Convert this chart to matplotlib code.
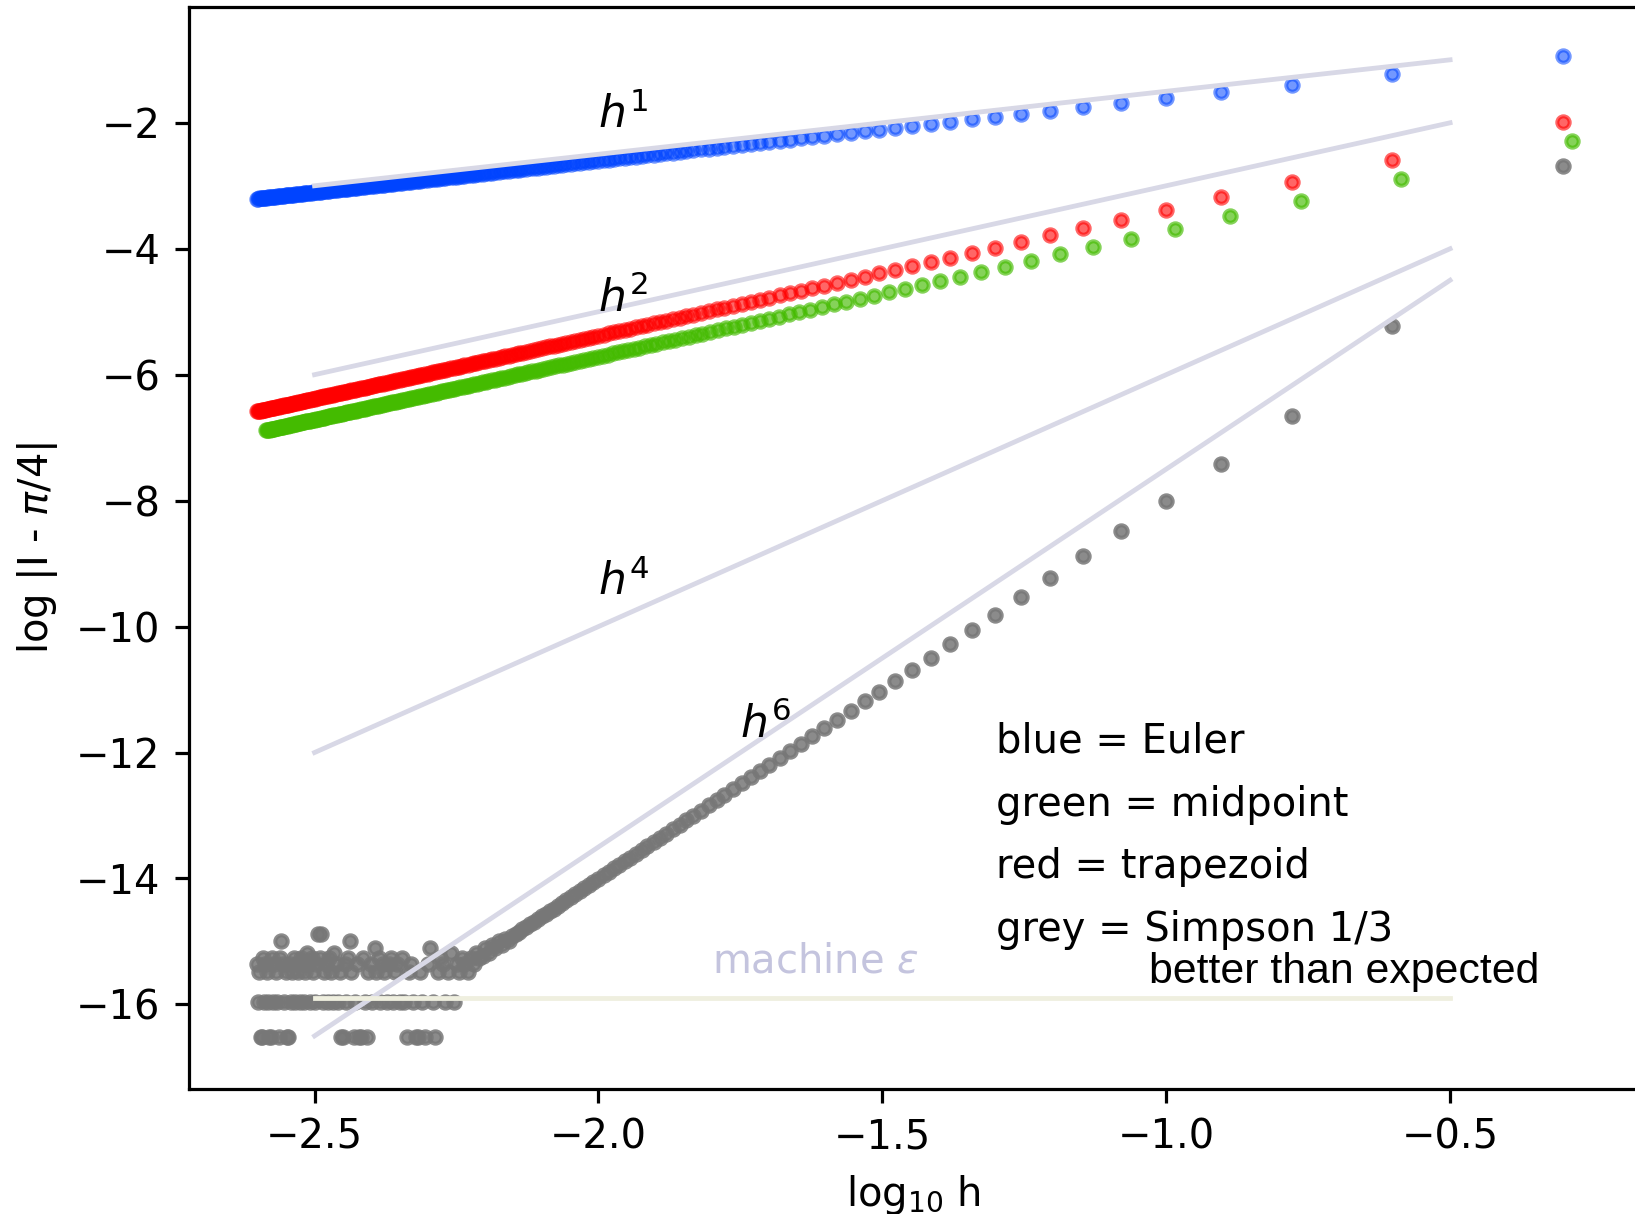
import matplotlib
matplotlib.use("Agg")
import matplotlib.pyplot as plt
import matplotlib.transforms as mtransforms

# log10 of the step h = 1/n for n = 2, 4, ..., 400 panels
log_h = [
    -0.301, -0.602, -0.778, -0.903, -1.000, -1.079, -1.146, -1.204, -1.255, -1.301,
    -1.342, -1.380, -1.415, -1.447, -1.477, -1.505, -1.531, -1.556, -1.580, -1.602,
    -1.623, -1.643, -1.663, -1.681, -1.699, -1.716, -1.732, -1.748, -1.763, -1.778,
    -1.792, -1.806, -1.820, -1.833, -1.845, -1.857, -1.869, -1.881, -1.892, -1.903,
    -1.914, -1.924, -1.934, -1.944, -1.954, -1.964, -1.973, -1.982, -1.991, -2.000,
    -2.009, -2.017, -2.025, -2.033, -2.041, -2.049, -2.057, -2.064, -2.072, -2.079,
    -2.086, -2.093, -2.100, -2.107, -2.114, -2.121, -2.127, -2.134, -2.140, -2.146,
    -2.152, -2.158, -2.164, -2.170, -2.176, -2.182, -2.188, -2.193, -2.199, -2.204,
    -2.210, -2.215, -2.220, -2.225, -2.230, -2.236, -2.241, -2.246, -2.250, -2.255,
    -2.260, -2.265, -2.270, -2.274, -2.279, -2.283, -2.288, -2.292, -2.297, -2.301,
    -2.305, -2.310, -2.314, -2.318, -2.322, -2.326, -2.330, -2.334, -2.338, -2.342,
    -2.346, -2.350, -2.354, -2.358, -2.362, -2.365, -2.369, -2.373, -2.377, -2.380,
    -2.384, -2.387, -2.391, -2.394, -2.398, -2.401, -2.405, -2.408, -2.412, -2.415,
    -2.418, -2.422, -2.425, -2.428, -2.431, -2.435, -2.438, -2.441, -2.444, -2.447,
    -2.450, -2.453, -2.456, -2.459, -2.462, -2.465, -2.468, -2.471, -2.474, -2.477,
    -2.480, -2.483, -2.486, -2.489, -2.491, -2.494, -2.497, -2.500, -2.502, -2.505,
    -2.508, -2.511, -2.513, -2.516, -2.519, -2.521, -2.524, -2.526, -2.529, -2.531,
    -2.534, -2.537, -2.539, -2.542, -2.544, -2.547, -2.549, -2.551, -2.554, -2.556,
    -2.559, -2.561, -2.563, -2.566, -2.568, -2.571, -2.573, -2.575, -2.577, -2.580,
    -2.582, -2.584, -2.587, -2.589, -2.591, -2.593, -2.595, -2.598, -2.600, -2.602,
]

# log10 |I - pi/4| for each rule, same order as log_h
err_euler = [
    -0.941, -1.223, -1.392, -1.514, -1.609, -1.687, -1.753, -1.811, -1.861, -1.907,
    -1.945, -1.983, -2.018, -2.050, -2.080, -2.108, -2.134, -2.159, -2.183, -2.205,
    -2.226, -2.246, -2.266, -2.284, -2.302, -2.319, -2.335, -2.351, -2.366, -2.381,
    -2.395, -2.409, -2.423, -2.436, -2.448, -2.460, -2.472, -2.484, -2.495, -2.506,
    -2.517, -2.527, -2.537, -2.547, -2.557, -2.567, -2.576, -2.585, -2.594, -2.603,
    -2.612, -2.620, -2.628, -2.636, -2.644, -2.652, -2.660, -2.667, -2.675, -2.682,
    -2.689, -2.696, -2.703, -2.710, -2.717, -2.724, -2.730, -2.737, -2.743, -2.749,
    -2.755, -2.761, -2.767, -2.773, -2.779, -2.785, -2.791, -2.796, -2.802, -2.807,
    -2.813, -2.818, -2.823, -2.828, -2.833, -2.839, -2.844, -2.849, -2.853, -2.858,
    -2.863, -2.868, -2.873, -2.877, -2.882, -2.886, -2.891, -2.895, -2.900, -2.904,
    -2.908, -2.913, -2.917, -2.921, -2.925, -2.929, -2.933, -2.937, -2.941, -2.945,
    -2.949, -2.953, -2.957, -2.961, -2.965, -2.968, -2.972, -2.976, -2.980, -2.983,
    -2.987, -2.990, -2.994, -2.997, -3.001, -3.004, -3.008, -3.011, -3.015, -3.018,
    -3.021, -3.025, -3.028, -3.031, -3.034, -3.038, -3.041, -3.044, -3.047, -3.050,
    -3.053, -3.056, -3.059, -3.062, -3.065, -3.068, -3.071, -3.074, -3.077, -3.080,
    -3.083, -3.086, -3.089, -3.092, -3.094, -3.097, -3.100, -3.103, -3.105, -3.108,
    -3.111, -3.114, -3.116, -3.119, -3.122, -3.124, -3.127, -3.129, -3.132, -3.134,
    -3.137, -3.140, -3.142, -3.145, -3.147, -3.150, -3.152, -3.154, -3.157, -3.159,
    -3.162, -3.164, -3.166, -3.169, -3.171, -3.174, -3.176, -3.178, -3.180, -3.183,
    -3.185, -3.187, -3.190, -3.192, -3.194, -3.196, -3.198, -3.201, -3.203, -3.205,
]

err_trap = [
    -1.982, -2.584, -2.936, -3.186, -3.380, -3.538, -3.672, -3.788, -3.890, -3.982,
    -4.064, -4.140, -4.210, -4.274, -4.334, -4.390, -4.442, -4.492, -4.540, -4.584,
    -4.626, -4.666, -4.706, -4.742, -4.778, -4.812, -4.844, -4.876, -4.906, -4.936,
    -4.964, -4.992, -5.020, -5.046, -5.070, -5.094, -5.118, -5.142, -5.164, -5.186,
    -5.208, -5.228, -5.248, -5.268, -5.288, -5.308, -5.326, -5.344, -5.362, -5.380,
    -5.398, -5.414, -5.430, -5.446, -5.462, -5.478, -5.494, -5.508, -5.524, -5.538,
    -5.552, -5.566, -5.580, -5.594, -5.608, -5.622, -5.634, -5.648, -5.660, -5.672,
    -5.684, -5.696, -5.708, -5.720, -5.732, -5.744, -5.756, -5.766, -5.778, -5.788,
    -5.800, -5.810, -5.820, -5.830, -5.840, -5.852, -5.862, -5.872, -5.880, -5.890,
    -5.900, -5.910, -5.920, -5.928, -5.938, -5.946, -5.956, -5.964, -5.974, -5.982,
    -5.990, -6.000, -6.008, -6.016, -6.024, -6.032, -6.040, -6.048, -6.056, -6.064,
    -6.072, -6.080, -6.088, -6.096, -6.104, -6.110, -6.118, -6.126, -6.134, -6.140,
    -6.148, -6.154, -6.162, -6.168, -6.176, -6.182, -6.190, -6.196, -6.204, -6.210,
    -6.216, -6.224, -6.230, -6.236, -6.242, -6.250, -6.256, -6.262, -6.268, -6.274,
    -6.280, -6.286, -6.292, -6.298, -6.304, -6.310, -6.316, -6.322, -6.328, -6.334,
    -6.340, -6.346, -6.352, -6.358, -6.362, -6.368, -6.374, -6.380, -6.384, -6.390,
    -6.396, -6.402, -6.406, -6.412, -6.418, -6.422, -6.428, -6.432, -6.438, -6.442,
    -6.448, -6.454, -6.458, -6.464, -6.468, -6.474, -6.478, -6.482, -6.488, -6.492,
    -6.498, -6.502, -6.506, -6.512, -6.516, -6.522, -6.526, -6.530, -6.534, -6.540,
    -6.544, -6.548, -6.554, -6.558, -6.562, -6.566, -6.570, -6.576, -6.580, -6.584,
]

err_mid = [
    -2.283, -2.885, -3.237, -3.487, -3.681, -3.839, -3.973, -4.089, -4.191, -4.283,
    -4.365, -4.441, -4.511, -4.575, -4.635, -4.691, -4.743, -4.793, -4.841, -4.885,
    -4.927, -4.967, -5.007, -5.043, -5.079, -5.113, -5.145, -5.177, -5.207, -5.237,
    -5.265, -5.293, -5.321, -5.347, -5.371, -5.395, -5.419, -5.443, -5.465, -5.487,
    -5.509, -5.529, -5.549, -5.569, -5.589, -5.609, -5.627, -5.645, -5.663, -5.681,
    -5.699, -5.715, -5.731, -5.747, -5.763, -5.779, -5.795, -5.809, -5.825, -5.839,
    -5.853, -5.867, -5.881, -5.895, -5.909, -5.923, -5.935, -5.949, -5.961, -5.973,
    -5.985, -5.997, -6.009, -6.021, -6.033, -6.045, -6.057, -6.067, -6.079, -6.089,
    -6.101, -6.111, -6.121, -6.131, -6.141, -6.153, -6.163, -6.173, -6.181, -6.191,
    -6.201, -6.211, -6.221, -6.229, -6.239, -6.247, -6.257, -6.265, -6.275, -6.283,
    -6.291, -6.301, -6.309, -6.317, -6.325, -6.333, -6.341, -6.349, -6.357, -6.365,
    -6.373, -6.381, -6.389, -6.397, -6.405, -6.411, -6.419, -6.427, -6.435, -6.441,
    -6.449, -6.455, -6.463, -6.469, -6.477, -6.483, -6.491, -6.497, -6.505, -6.511,
    -6.517, -6.525, -6.531, -6.537, -6.543, -6.551, -6.557, -6.563, -6.569, -6.575,
    -6.581, -6.587, -6.593, -6.599, -6.605, -6.611, -6.617, -6.623, -6.629, -6.635,
    -6.641, -6.647, -6.653, -6.659, -6.663, -6.669, -6.675, -6.681, -6.685, -6.691,
    -6.697, -6.703, -6.707, -6.713, -6.719, -6.723, -6.729, -6.733, -6.739, -6.743,
    -6.749, -6.755, -6.759, -6.765, -6.769, -6.775, -6.779, -6.783, -6.789, -6.793,
    -6.799, -6.803, -6.807, -6.813, -6.817, -6.823, -6.827, -6.831, -6.835, -6.841,
    -6.845, -6.849, -6.855, -6.859, -6.863, -6.867, -6.871, -6.877, -6.881, -6.885,
]

# Simpson hits round-off for the finest steps: values snap to a few levels
err_simpson = [
    -2.685, -5.222, -6.659, -7.421, -8.003, -8.477, -8.879, -9.227, -9.533, -9.809,
    -10.055, -10.283, -10.493, -10.685, -10.865, -11.033, -11.189, -11.339, -11.483, -11.615,
    -11.741, -11.861, -11.981, -12.089, -12.197, -12.299, -12.395, -12.491, -12.581, -12.671,
    -12.755, -12.839, -12.923, -13.001, -13.073, -13.145, -13.217, -13.289, -13.355, -13.421,
    -13.487, -13.547, -13.607, -13.670, -13.727, -13.787, -13.841, -13.895, -13.949, -14.003,
    -14.057, -14.105, -14.153, -14.201, -14.249, -14.297, -14.345, -14.387, -14.435, -14.477,
    -14.519, -14.561, -14.603, -14.645, -14.687, -14.729, -14.765, -14.807, -14.843, -14.875,
    -14.913, -15.000, -14.955, -15.052, -15.000, -15.110, -15.052, -15.177, -15.110, -15.227,
    -15.256, -15.177, -15.353, -15.256, -15.478, -15.353, -15.256, -15.478, -15.353, -15.955,
    -15.177, -15.478, -15.955, -15.353, -15.256, -15.478, -16.520, -15.955, -15.110, -15.353,
    -16.520, -15.955, -15.478, -16.520, -16.520, -15.955, -15.353, -15.478, -16.520, -15.955,
    -15.256, -15.955, -15.353, -15.478, -15.955, -15.256, -15.353, -15.955, -15.478, -15.353,
    -15.955, -15.256, -15.478, -15.110, -15.955, -15.353, -15.478, -16.520, -15.955, -15.256,
    -16.520, -16.520, -15.353, -15.955, -16.520, -15.478, -15.000, -15.256, -15.955, -15.353,
    -16.520, -16.520, -15.478, -15.955, -15.353, -15.177, -15.955, -15.478, -15.256, -15.955,
    -15.353, -15.478, -15.955, -14.875, -15.256, -14.875, -15.353, -15.955, -15.478, -15.256,
    -15.955, -15.353, -15.177, -15.478, -15.955, -15.353, -15.256, -15.955, -15.478, -15.353,
    -15.955, -15.256, -15.478, -15.955, -15.353, -16.520, -16.520, -15.478, -15.955, -15.353,
    -15.000, -15.256, -16.520, -15.955, -15.478, -15.353, -15.955, -15.256, -16.520, -16.520,
    -15.955, -15.478, -15.353, -15.955, -15.256, -16.520, -16.520, -15.478, -15.955, -15.353,
]

# reference slopes h^p, drawn between log h = -2.5 and -0.5
guide_x = [-2.5, -0.5]
guide_h1 = [-3.0, -1.0]
guide_h2 = [-6.0, -2.0]
guide_h4 = [-12.0, -4.0]
guide_h6 = [-16.5, -4.5]
eps_level = [-15.89, -15.89]

DPI = 288
fig = plt.figure(figsize=(1635 / DPI, 1214 / DPI), dpi=DPI)
ax = fig.add_axes([0.1153, 0.1026, 0.8862, 0.8917])

marker_kw = dict(ls="none", marker="o", ms=3.1, mew=1.0)
ax.plot(log_h, err_euler, color="#0044ff", alpha=0.55, **marker_kw)
ax.plot(log_h, err_trap, color="#ff0000", alpha=0.6, **marker_kw)
# midpoint points nudged right so they do not sit on the trapezoid ones
mid_shift = mtransforms.offset_copy(ax.transData, fig=fig, x=2.3, y=0, units="points")
ax.plot(log_h, err_mid, color="#44bb00", alpha=0.65, transform=mid_shift, **marker_kw)
ax.plot(log_h, err_simpson, color="#777777", alpha=0.85, **marker_kw)

for g in (guide_h1, guide_h2, guide_h4, guide_h6):
    ax.plot(guide_x, g, color="#d8d8e6", lw=1.2, zorder=3)
ax.plot(guide_x, eps_level, color="#efefdf", lw=1.2, zorder=3)

ax.text(-2.0, -2.08, r"$h^1$", fontsize=11)
ax.text(-2.0, -5.0, r"$h^2$", fontsize=11)
ax.text(-2.0, -9.5, r"$h^4$", fontsize=11)
ax.text(-1.75, -11.77, r"$h^6$", fontsize=11)
ax.text(-1.8, -15.5, r"machine $\varepsilon$", color="#c4c4de", fontsize=10)

for yy, label in zip([-12, -13, -14, -15],
                     ["blue = Euler", "green = midpoint", "red = trapezoid",
                      "grey = Simpson 1/3"]):
    ax.text(-1.3, yy, label, fontsize=10)
ax.text(-1.03, -15.66, "better than expected", fontsize=10.7,
        family=["Liberation Sans", "DejaVu Sans"])

ax.set_xlim(-2.722, -0.17)
ax.set_ylim(-17.35, -0.16)
ax.set_xticks([-2.5, -2.0, -1.5, -1.0, -0.5])
ax.set_yticks([-16, -14, -12, -10, -8, -6, -4, -2])
ax.set_xlabel(r"log$_{10}$ h")
ax.set_ylabel(r"log |I - $\pi$/4|")

fig.savefig("out.png", dpi=DPI)
